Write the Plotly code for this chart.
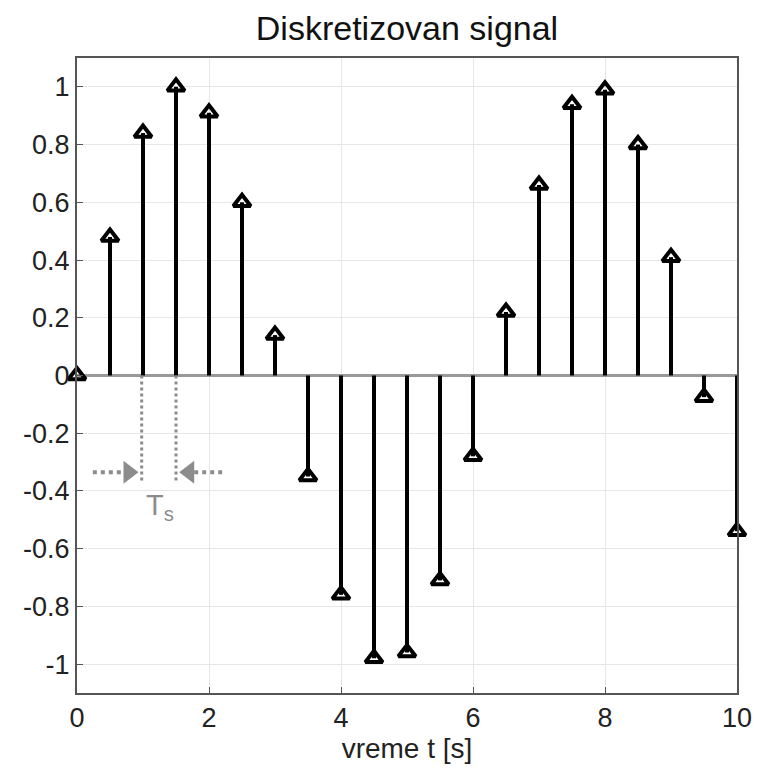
import plotly.graph_objects as go

t = [0, 0.5, 1, 1.5, 2, 2.5, 3, 3.5, 4, 4.5, 5, 5.5, 6, 6.5, 7, 7.5, 8, 8.5, 9, 9.5, 10]
x_vals = [0.0, 0.48, 0.84, 1.0, 0.91, 0.6, 0.14, -0.35, -0.76, -0.98, -0.96, -0.71, -0.28,
          0.22, 0.66, 0.94, 0.99, 0.8, 0.41, -0.075, -0.54]

y_ticks = [-1, -0.8, -0.6, -0.4, -0.2, 0, 0.2, 0.4, 0.6, 0.8, 1]
y_tick_text = ["-1", "-0.8", "-0.6", "-0.4", "-0.2", "0", "0.2", "0.4", "0.6", "0.8", "1"]
x_ticks = [0, 2, 4, 6, 8, 10]

# Ts annotation geometry (data units)
ts_left, ts_right = 0.98, 1.5
ts_line_bottom = -0.37
arrow_y = -0.335
arrow_left_start, arrow_left_tip = 0.24, 0.91
arrow_right_start, arrow_right_tip = 2.2, 1.57

GRAY = "#8c8c8c"
FONT = "Liberation Sans, Arial"

fig = go.Figure()

# stems
sx, sy = [], []
for ti, vi in zip(t, x_vals):
    sx += [ti, ti, None]
    sy += [0, vi, None]
fig.add_trace(go.Scatter(x=sx, y=sy, mode="lines", line=dict(color="black", width=4),
                         hoverinfo="skip", showlegend=False, cliponaxis=False))

# Ts dotted verticals
fig.add_trace(go.Scatter(x=[ts_left, ts_left, None, ts_right, ts_right],
                         y=[0, ts_line_bottom, None, 0, ts_line_bottom],
                         mode="lines", line=dict(color=GRAY, width=3, dash="dot"),
                         showlegend=False, hoverinfo="skip"))
# arrow shafts
fig.add_trace(go.Scatter(x=[arrow_left_start, arrow_left_tip - 0.14, None, arrow_right_start, arrow_right_tip + 0.14],
                         y=[arrow_y, arrow_y, None, arrow_y, arrow_y],
                         mode="lines", line=dict(color=GRAY, width=4, dash="dot"),
                         showlegend=False, hoverinfo="skip"))
# arrow heads
fig.add_trace(go.Scatter(x=[arrow_left_tip - 0.13, arrow_right_tip + 0.13], y=[arrow_y, arrow_y],
                         mode="markers",
                         marker=dict(symbol=["triangle-right", "triangle-left"], size=20, color=GRAY),
                         showlegend=False, hoverinfo="skip"))

# markers
fig.add_trace(go.Scatter(x=t, y=x_vals, mode="markers", cliponaxis=False,
                         marker=dict(symbol="triangle-up-open", size=15, color="black",
                                     line=dict(color="black", width=4)),
                         showlegend=False))

fig.add_annotation(x=1.25, y=-0.455, text="T<sub>s</sub>", showarrow=False,
                   font=dict(size=29, color=GRAY, family=FONT))

fig.update_layout(
    width=759, height=770,
    margin=dict(l=77, r=22, t=58, b=77, autoexpand=False),
    paper_bgcolor="white", plot_bgcolor="white",
    title=dict(text="Diskretizovan signal", x=0.5, xref="paper", xanchor="center",
               y=0.963, yanchor="middle",
               font=dict(size=34, color="#111", family=FONT)),
    font=dict(family=FONT, size=27, color="#222"),
    xaxis=dict(range=[0, 10], tickvals=x_ticks, showgrid=True, gridcolor="#e6e6e6", gridwidth=1,
               zeroline=False, showline=True, linecolor="#555", linewidth=2, mirror=True,
               ticks="inside", ticklen=6, tickcolor="#555", automargin=False,
               title=dict(text="vreme t [s]", font=dict(size=28), standoff=4)),
    yaxis=dict(range=[-1.1, 1.1], tickvals=y_ticks, ticktext=y_tick_text, showgrid=True,
               gridcolor="#e6e6e6", gridwidth=1, automargin=False,
               zeroline=True, zerolinecolor="#999", zerolinewidth=3,
               showline=True, linecolor="#555", linewidth=2, mirror=True,
               ticks="inside", ticklen=6, tickcolor="#555"),
)

fig.write_html("out.html", config={"displayModeBar": False},
               post_script="document.body.style.margin='0px';")
